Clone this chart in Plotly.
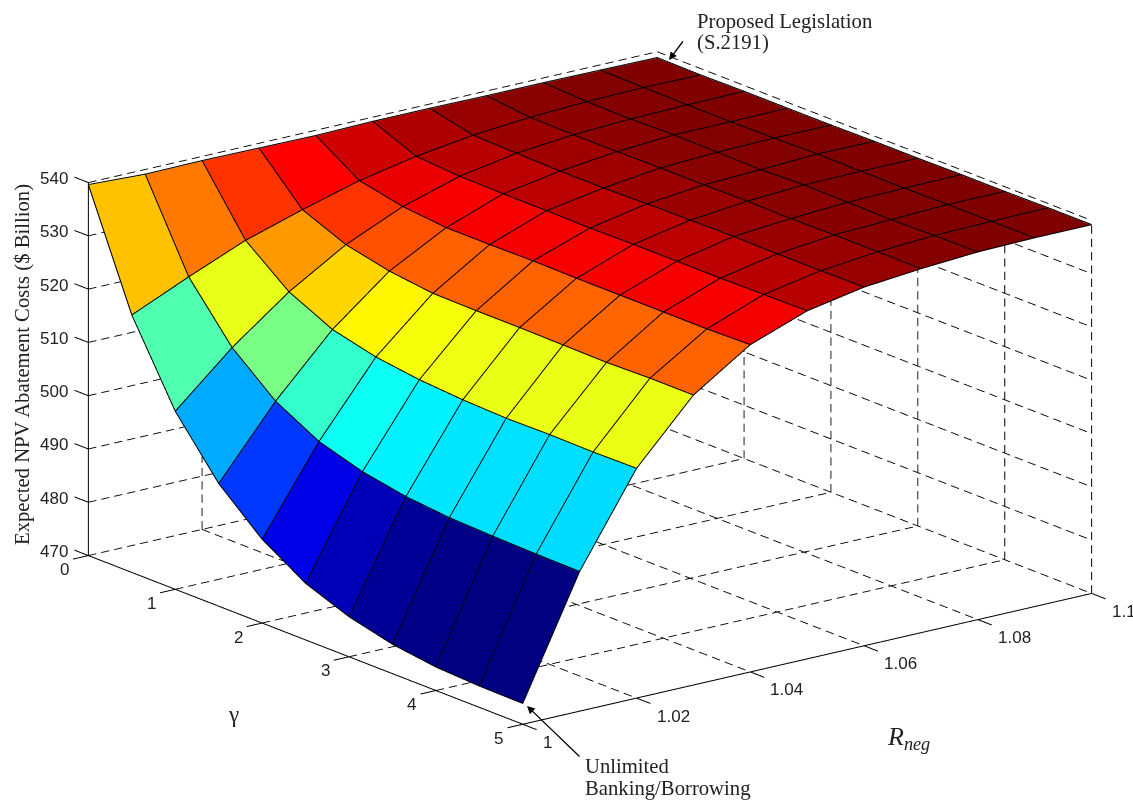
import plotly.graph_objects as go

gamma = [0, 0.5, 1, 1.5, 2, 2.5, 3, 3.5, 4, 4.5, 5]
r_neg = [1, 1.01, 1.02, 1.03, 1.04, 1.05, 1.06, 1.07, 1.08, 1.09, 1.1]
cost = [
    [539.5, 539.0, 539.1, 539.0, 538.9, 539.1, 539.1, 539.0, 539.0, 538.9, 538.8],
    [518.2, 522.9, 527.3, 530.6, 533.6, 535.7, 537.2, 538.1, 538.6, 538.8, 538.7],
    [503.3, 512.8, 520.8, 527.2, 531.9, 535.1, 537.0, 538.0, 538.5, 538.7, 538.8],
    [492.9, 505.9, 516.9, 525.4, 531.1, 535.0, 536.8, 538.0, 538.7, 538.7, 538.8],
    [485.6, 501.5, 514.9, 524.4, 531.1, 535.0, 536.8, 538.1, 538.6, 538.8, 538.8],
    [480.5, 499.0, 513.8, 524.3, 531.2, 534.9, 537.0, 538.1, 538.5, 539.0, 538.9],
    [477.4, 497.5, 513.2, 524.3, 531.1, 535.0, 537.1, 538.2, 538.8, 538.9, 538.9],
    [475.4, 496.7, 512.9, 524.2, 531.1, 535.0, 537.2, 538.1, 538.7, 538.9, 539.0],
    [474.3, 496.4, 513.0, 524.1, 531.1, 535.0, 537.1, 538.2, 538.6, 539.0, 539.0],
    [473.9, 496.2, 512.9, 524.3, 531.1, 535.1, 537.1, 538.2, 538.8, 539.0, 539.1],
    [473.8, 496.1, 513.0, 524.3, 531.3, 535.2, 537.2, 538.2, 538.9, 539.1, 539.1],
]
gamma_ticks = [0, 1, 2, 3, 4, 5]
r_ticks = [1, 1.02, 1.04, 1.06, 1.08, 1.1]
r_tick_text = ["1", "1.02", "1.04", "1.06", "1.08", "1.1"]
z_ticks = [470, 480, 490, 500, 510, 520, 530, 540]

W, H = 1133, 800
SERIF = "Liberation Serif"
SANS = "Liberation Sans"
INK = "#222222"
EDGE_LIFT = 0.12
jet = [[0, "rgb(0,0,128)"], [0.125, "rgb(0,0,255)"], [0.375, "rgb(0,255,255)"],
       [0.625, "rgb(255,255,0)"], [0.875, "rgb(255,0,0)"], [1, "rgb(128,0,0)"]]

ni, nj = len(gamma), len(r_neg)
vx, vy, vz = [], [], []
for a, g in enumerate(gamma):
    for b, r in enumerate(r_neg):
        vx.append(g); vy.append(r); vz.append(cost[a][b])
ti, tj, tk, cell = [], [], [], []
for a in range(ni - 1):
    for b in range(nj - 1):
        p = a * nj + b
        q = p + 1
        s = p + nj
        t = s + 1
        ti += [p, q]; tj += [q, t]; tk += [s, s]
        cell += [cost[a + 1][b]] * 2

fig = go.Figure()
fig.add_trace(go.Mesh3d(
    x=vx, y=vy, z=vz, i=ti, j=tj, k=tk, intensity=cell, intensitymode="cell",
    colorscale=jet, cmin=min(cell), cmax=max(cell) - 0.3, showscale=False, flatshading=True,
    lighting=dict(ambient=1, diffuse=0, specular=0, roughness=1, fresnel=0),
    hoverinfo="skip"))

# mesh edges
ex, ey, ez = [], [], []
for a, g in enumerate(gamma):
    for b, r in enumerate(r_neg):
        ex.append(g); ey.append(r); ez.append(cost[a][b] + EDGE_LIFT)
    ex.append(None); ey.append(None); ez.append(None)
for b, r in enumerate(r_neg):
    for a, g in enumerate(gamma):
        ex.append(g); ey.append(r); ez.append(cost[a][b] + EDGE_LIFT)
    ex.append(None); ey.append(None); ez.append(None)
fig.add_trace(go.Scatter3d(x=ex, y=ey, z=ez, mode="lines", line=dict(color="black", width=2),
                           hoverinfo="skip", showlegend=False))

z0, z1 = z_ticks[0], z_ticks[-1]
g0, g1 = gamma_ticks[0], gamma_ticks[-1]
r0, r1 = r_ticks[0], r_ticks[-1]

# dashed box grid: each grid line cut into short strokes
gx, gy, gz = [], [], []
def dashed(p0, p1, periods):
    on = 0.62
    for n in range(periods):
        u0 = n / periods
        u1 = (n + on) / periods
        gx.extend([p0[0] + (p1[0] - p0[0]) * u0, p0[0] + (p1[0] - p0[0]) * u1, None])
        gy.extend([p0[1] + (p1[1] - p0[1]) * u0, p0[1] + (p1[1] - p0[1]) * u1, None])
        gz.extend([p0[2] + (p1[2] - p0[2]) * u0, p0[2] + (p1[2] - p0[2]) * u1, None])
P_G, P_R, P_Z = 34, 44, 28
for g in gamma_ticks:
    dashed((g, r0, z0), (g, r1, z0), P_R)
    dashed((g, r1, z0), (g, r1, z1), P_Z)
for r in r_ticks:
    dashed((g0, r, z0), (g1, r, z0), P_G)
    dashed((g0, r, z0), (g0, r, z1), P_Z)
for z in z_ticks:
    dashed((g0, r0, z), (g0, r1, z), P_R)
    dashed((g0, r1, z), (g1, r1, z), P_G)
fig.add_trace(go.Scatter3d(x=gx, y=gy, z=gz, mode="lines",
                           line=dict(color="black", width=1.8),
                           hoverinfo="skip", showlegend=False))

# axis lines and tick marks
TG, TR, TZ = 0.16, 0.0027, 1.0
ax_x, ax_y, ax_z = [], [], []
def solid(p0, p1):
    ax_x.extend([p0[0], p1[0], None]); ax_y.extend([p0[1], p1[1], None]); ax_z.extend([p0[2], p1[2], None])
solid((g0, r0, z0), (g1, r0, z0))
solid((g1, r0, z0), (g1, r1, z0))
solid((g0, r0, z0), (g0, r0, z1))
for g in gamma_ticks:
    solid((g, r0, z0), (g, r0 - TR, z0))
for r in r_ticks:
    solid((g1, r, z0), (g1 + TG, r, z0))
for z in z_ticks:
    solid((g0, r0, z), (g0 - TG, r0, z))
fig.add_trace(go.Scatter3d(x=ax_x, y=ax_y, z=ax_z, mode="lines",
                           line=dict(color="black", width=2),
                           hoverinfo="skip", showlegend=False))

hidden = dict(visible=False, autorange=False)
scene_notes = []
def tick_label(x, y, z, text, xs, ys, anchor):
    scene_notes.append(dict(x=x, y=y, z=z, text=text, showarrow=False, xshift=xs, yshift=ys,
                            xanchor=anchor, yanchor="middle",
                            font=dict(family=SANS, size=17, color=INK)))
for z in z_ticks:
    tick_label(g0, r0, z, str(z), -34, 4, "center")
for g in gamma_ticks:
    tick_label(g, r0, z0, str(g), -24, -14, "center")
for r, t in zip(r_ticks, r_tick_text):
    tick_label(g1, r, z0, t, 18, -18, "left")

def note(px, py, text, size=20.7, xanchor="left", yanchor="middle", angle=0):
    return dict(x=px / W, y=1 - py / H, xref="paper", yref="paper", text=text, showarrow=False,
                xanchor=xanchor, yanchor=yanchor, textangle=angle,
                font=dict(family=SERIF, size=size, color=INK))

def arrow(tx, ty, sx, sy):
    return dict(x=tx / W, y=1 - ty / H, xref="paper", yref="paper", text="", showarrow=True,
                ax=sx - tx, ay=sy - ty, axref="pixel", ayref="pixel",
                arrowhead=2, arrowsize=1.2, arrowwidth=1.3, arrowcolor="black")

k = 3.0
fig.update_layout(
    margin=dict(l=0, r=0, t=0, b=0), width=W, height=H, paper_bgcolor="white", showlegend=False,
    scene=dict(
        domain=dict(x=[0.0415, 1], y=[0.03, 1]),
        xaxis=dict(hidden, range=[g0 - TG, g1 + TG]),
        yaxis=dict(hidden, range=[r0 - TR, r1 + TR]),
        zaxis=dict(hidden, range=[z0 - TZ, z1 + TZ]),
        aspectmode="manual",
        aspectratio=dict(x=0.994 * 5.32 / 5 * 1.847, y=1.054 * 1.85, z=0.539 * 1.869 * 72 / 70),
        camera=dict(projection=dict(type="orthographic"),
                    eye=dict(x=0.7563 * k, y=-0.5820 * k, z=0.2988 * k),
                    center=dict(x=0, y=0, z=0), up=dict(x=0, y=0, z=1)),
        bgcolor="white", annotations=scene_notes),
    annotations=[
        note(695, 22, "Proposed Legislation"),
        note(695, 43, "(S.2191)"),
        note(583, 766, "Unlimited"),
        note(583, 788, "Banking/Borrowing"),
        note(233, 714, "γ", size=23, xanchor="center"),
        note(908, 738, "<i>R</i><sub><i>neg</i></sub>", size=26, xanchor="center"),
        note(22, 365, "Expected NPV Abatement Costs ($ Billion)", xanchor="center", angle=-90),
        arrow(669, 60, 684, 40),
        arrow(527, 706, 581, 758),
    ],
)
fig.write_html("out.html", post_script="document.body.style.margin='0';",
               config=dict(displayModeBar=False))
